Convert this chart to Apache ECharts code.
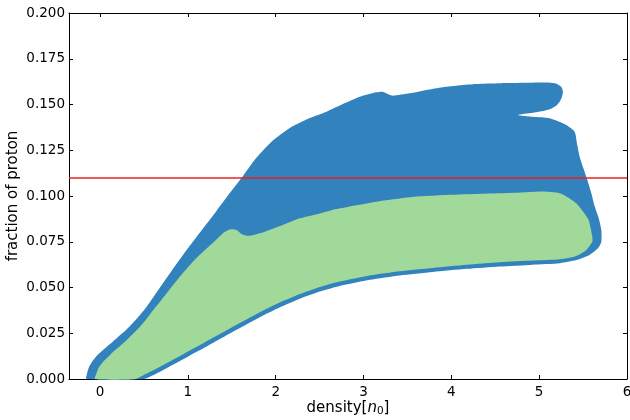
<!DOCTYPE html>
<html>
<head>
<meta charset="utf-8">
<script src="https://cdn.jsdelivr.net/npm/echarts@6/dist/echarts.min.js"></script>
<style>html,body{margin:0;padding:0;background:#fff}#c{width:630px;height:420px}</style>
</head>
<body>
<div id="c"></div>
<script>
// Outer (blue) region boundary, traced as a closed polygon
const blueX = [-0.154,-0.146,-0.125,-0.085,-0.034,0.034,0.114,0.205,0.296,0.379,0.455,0.531,0.683,0.830,0.986,1.138,1.328,1.513,1.630,1.783,1.968,2.162,2.389,2.579,2.765,2.958,3.148,3.220,3.276,3.333,3.527,3.717,3.902,4.096,4.286,4.550,4.664,5.040,5.119,5.196,5.253,5.271,5.258,5.233,5.190,5.119,5.030,4.929,4.759,4.929,5.119,5.309,5.404,5.430,5.461,5.498,5.537,5.594,5.631,5.677,5.708,5.708,5.669,5.574,5.423,5.233,4.926,4.550,4.175,3.788,3.413,3.072,2.730,2.503,2.275,2.048,1.820,1.593,1.365,1.138,0.910,0.683,0.495];
const blueY = [0.0000,0.0033,0.0066,0.0098,0.0128,0.0158,0.0191,0.0230,0.0268,0.0309,0.0350,0.0395,0.0500,0.0601,0.0705,0.0801,0.0920,0.1038,0.1111,0.1210,0.1303,0.1372,0.1426,0.1461,0.1503,0.1543,0.1567,0.1570,0.1557,0.1548,0.1561,0.1579,0.1594,0.1605,0.1612,0.1616,0.1617,0.1620,0.1619,0.1614,0.1596,0.1570,0.1540,0.1515,0.1492,0.1474,0.1463,0.1455,0.1443,0.1433,0.1425,0.1388,0.1351,0.1288,0.1215,0.1160,0.1105,0.1015,0.0945,0.0880,0.0814,0.0750,0.0714,0.0678,0.0650,0.0633,0.0625,0.0615,0.0602,0.0585,0.0566,0.0542,0.0508,0.0478,0.0439,0.0392,0.0338,0.0279,0.0219,0.0158,0.0098,0.0040,0.0000];
// Inner (green) region boundary
const greenX = [-0.057,-0.043,-0.017,0.038,0.091,0.151,0.228,0.304,0.379,0.455,0.531,0.606,0.683,0.796,0.944,1.081,1.214,1.308,1.403,1.456,1.498,1.555,1.612,1.669,1.729,1.820,2.082,2.275,2.503,2.693,3.148,3.527,3.902,4.286,4.664,5.043,5.233,5.347,5.423,5.495,5.563,5.605,5.605,5.537,5.423,5.233,4.926,4.550,4.175,3.788,3.413,3.072,2.730,2.503,2.275,2.048,1.820,1.593,1.365,1.138,0.910,0.683,0.531,0.398];
const greenY = [0.0000,0.0027,0.0060,0.0095,0.0120,0.0149,0.0180,0.0213,0.0249,0.0286,0.0329,0.0377,0.0422,0.0492,0.0579,0.0653,0.0713,0.0754,0.0798,0.0813,0.0818,0.0814,0.0792,0.0783,0.0784,0.0796,0.0842,0.0878,0.0905,0.0929,0.0969,0.0993,0.1005,0.1011,0.1016,0.1024,0.1015,0.0987,0.0960,0.0918,0.0869,0.0778,0.0750,0.0705,0.0672,0.0654,0.0647,0.0638,0.0624,0.0607,0.0589,0.0566,0.0533,0.0503,0.0464,0.0418,0.0365,0.0306,0.0246,0.0186,0.0126,0.0067,0.0030,0.0000];
const refY = 0.111;
const xTicks = [0,1,2,3,4,5,6];
const xMin = -0.353, xMax = 6;
const yMin = 0, yMax = 0.2, yStep = 0.025;

const FONT = 'DejaVu Sans';
const chart = echarts.init(document.getElementById('c'), null, {renderer:'canvas'});

function polySeries(xs, ys, color) {
  const pts = xs.map((x, i) => [x, ys[i]]);
  return {
    type: 'custom',
    coordinateSystem: 'cartesian2d',
    xAxisIndex: 0, yAxisIndex: 0,
    silent: true,
    data: [pts[0]],
    renderItem: function (params, api) {
      return {
        type: 'polygon',
        shape: { points: pts.map(p => api.coord(p)), smooth: 0.2 },
        style: { fill: color, stroke: null }
      };
    }
  };
}

const axisLineStyle = { color: '#000', width: 1 };
const green = polySeries(greenX, greenY, '#a1d99b');
green.markLine = {
  silent: true, symbol: 'none', animation: false,
  label: { show: false },
  lineStyle: { color: '#ee2020', width: 1.5, type: 'solid' },
  data: [{ yAxis: refY }]
};

chart.setOption({
  animation: false,
  grid: { left: 69, right: 3, top: 13, bottom: 41, containLabel: false, outerBoundsMode: 'none' },
  xAxis: [{
    type: 'value', min: xMin, max: xMax, position: 'bottom',
    axisLine: { onZero: false, lineStyle: axisLineStyle },
    axisTick: { inside: true, length: 4, customValues: xTicks, lineStyle: { color: '#000' } },
    axisLabel: { customValues: xTicks, color: '#000', fontFamily: FONT, fontSize: 13.5, margin: 6 },
    splitLine: { show: false },
    name: 'density[{i|n}{s|0}]',
    nameLocation: 'middle', nameGap: 21, nameMoveOverlap: false,
    nameTextStyle: {
      color: '#000', fontFamily: FONT, fontSize: 15,
      rich: {
        i: { fontFamily: FONT, fontStyle: 'italic', fontSize: 15, color: '#000' },
        s: { fontFamily: FONT, fontSize: 10.5, color: '#000', verticalAlign: 'bottom', padding: [6,0,0,0] }
      }
    }
  }, {
    type: 'value', min: xMin, max: xMax, position: 'top',
    axisLine: { onZero: false, lineStyle: axisLineStyle },
    axisTick: { inside: true, length: 4, customValues: xTicks, lineStyle: { color: '#000' } },
    axisLabel: { show: false },
    splitLine: { show: false }
  }],
  yAxis: [{
    type: 'value', min: yMin, max: yMax, interval: yStep, position: 'left',
    axisLine: { show: true, onZero: false, lineStyle: axisLineStyle },
    axisTick: { show: true, inside: true, length: 4, lineStyle: { color: '#000' } },
    axisLabel: { color: '#000', fontFamily: FONT, fontSize: 13.5, margin: 4, formatter: v => v.toFixed(3) },
    splitLine: { show: false },
    name: 'fraction of proton', nameLocation: 'middle', nameGap: 48, nameMoveOverlap: false,
    nameTextStyle: { color: '#000', fontFamily: FONT, fontSize: 15 }
  }, {
    type: 'value', min: yMin, max: yMax, interval: yStep, position: 'right',
    axisLine: { show: true, onZero: false, lineStyle: axisLineStyle },
    axisTick: { show: true, inside: true, length: 4, lineStyle: { color: '#000' } },
    axisLabel: { show: false },
    splitLine: { show: false }
  }],
  series: [polySeries(blueX, blueY, '#3182bd'), green]
});
</script>
</body>
</html>
